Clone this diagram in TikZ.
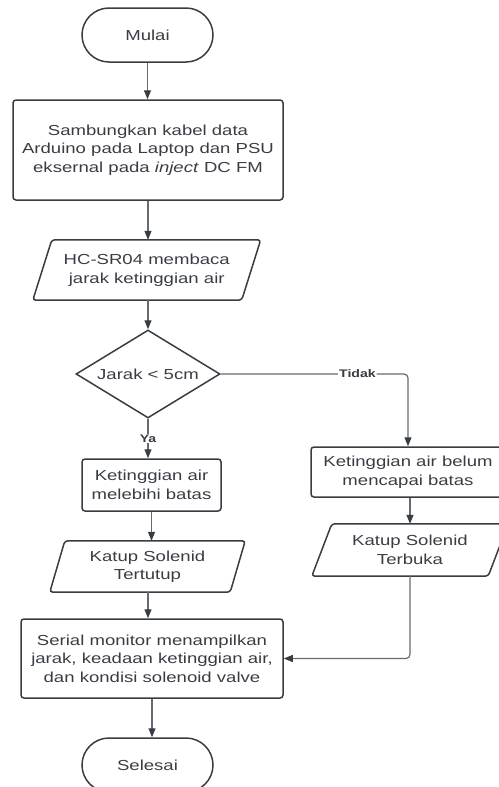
\documentclass[tikz,border=0pt]{standalone}
\usepackage{fontspec}
\setmainfont{Liberation Sans}[FakeStretch=1.28]
\usetikzlibrary{shapes.misc,shapes.geometric,arrows.meta}
\definecolor{ink}{HTML}{383D44}
\definecolor{wire}{HTML}{676B71}
\begin{document}
\begin{tikzpicture}[x=1pt,y=-1pt,
  every node/.style={text=ink,font=\fontsize{14.5}{18.5}\selectfont,align=center,inner sep=0pt},
  term/.style={rounded rectangle,draw=ink,line width=1.5pt,minimum width=131pt,minimum height=54pt},
  proc/.style={rectangle,rounded corners=3pt,draw=ink,line width=1.5pt},
  iobox/.style={rectangle},
  decis/.style={diamond,draw=ink,line width=1.5pt,aspect=1.64,minimum width=144pt,minimum height=88pt},
  para/.style={draw=ink,line width=1.5pt,rounded corners=3pt},
  conn/.style={draw=wire,line width=1.2pt,-{Triangle[width=7pt,length=9pt,color=ink]}},
  lbl/.style={font=\fontsize{11}{13}\selectfont\bfseries,fill=white,inner sep=1pt}]
\useasboundingbox (0,0) rectangle (498,787);

\node[term] (mulai) at (147.5,35) {Mulai};
\node[proc,minimum width=270pt,minimum height=100pt] (b1) at (148,150)
  {Sambungkan kabel data\\Arduino pada Laptop dan PSU\\eksernal pada \textit{inject} DC FM};
\node[iobox,minimum width=208.5pt,minimum height=60pt] (p1) at (146.75,270)
  {HC-SR04 membaca\\jarak ketinggian air};
\draw[para] ([xshift=9.5pt]p1.north west) -- ([xshift=9.5pt]p1.north east)
  -- ([xshift=-9.5pt]p1.south east) -- ([xshift=-9.5pt]p1.south west) -- cycle;
\node[decis] (d) at (148,374) {Jarak < 5cm};
\node[proc,minimum width=139pt,minimum height=52pt] (b2) at (151.5,485)
  {Ketinggian air\\melebihi batas};
\node[iobox,minimum width=180pt,minimum height=51pt] (p2) at (147.5,566.5)
  {Katup Solenid\\Tertutup};
\draw[para] ([xshift=7.5pt]p2.north west) -- ([xshift=7.5pt]p2.north east)
  -- ([xshift=-7.5pt]p2.south east) -- ([xshift=-7.5pt]p2.south west) -- cycle;
\node[proc,minimum width=194pt,minimum height=50pt] (b3) at (408,472)
  {Ketinggian air belum\\mencapai batas};
\node[iobox,minimum width=176pt,minimum height=52pt] (p3) at (410,550)
  {Katup Solenid\\Terbuka};
\draw[para] ([xshift=10pt]p3.north west) -- ([xshift=10pt]p3.north east)
  -- ([xshift=-10pt]p3.south east) -- ([xshift=-10pt]p3.south west) -- cycle;
\node[proc,minimum width=262pt,minimum height=79pt] (s) at (152,658.5)
  {Serial monitor menampilkan\\jarak, keadaan ketinggian air,\\dan kondisi solenoid valve};
\node[term] (selesai) at (147.5,765) {Selesai};

\draw[conn] (mulai.south) -- (mulai.south |- b1.north);
\draw[conn] (b1.south) -- (b1.south |- p1.north);
\draw[conn] (p1.south -| d.north) -- (d.north);
\draw[conn] (d.south) -- node[lbl]{Ya} (d.south |- b2.north);
\draw[conn,rounded corners=4pt] (d.east) -- node[lbl,pos=0.73]{Tidak} (d.east -| b3.north) -- (b3.north);
\draw[conn] (b2.south) -- (b2.south |- p2.north);
\draw[conn] (p2.south -| d.south) -- (d.south |- s.north);
\draw[conn] (b3.south -| p3.north) -- (p3.north);
\draw[conn,rounded corners=4pt] (p3.south) |- (s.east);
\draw[conn] (s.south) -- (s.south |- selesai.north);
\end{tikzpicture}
\end{document}
